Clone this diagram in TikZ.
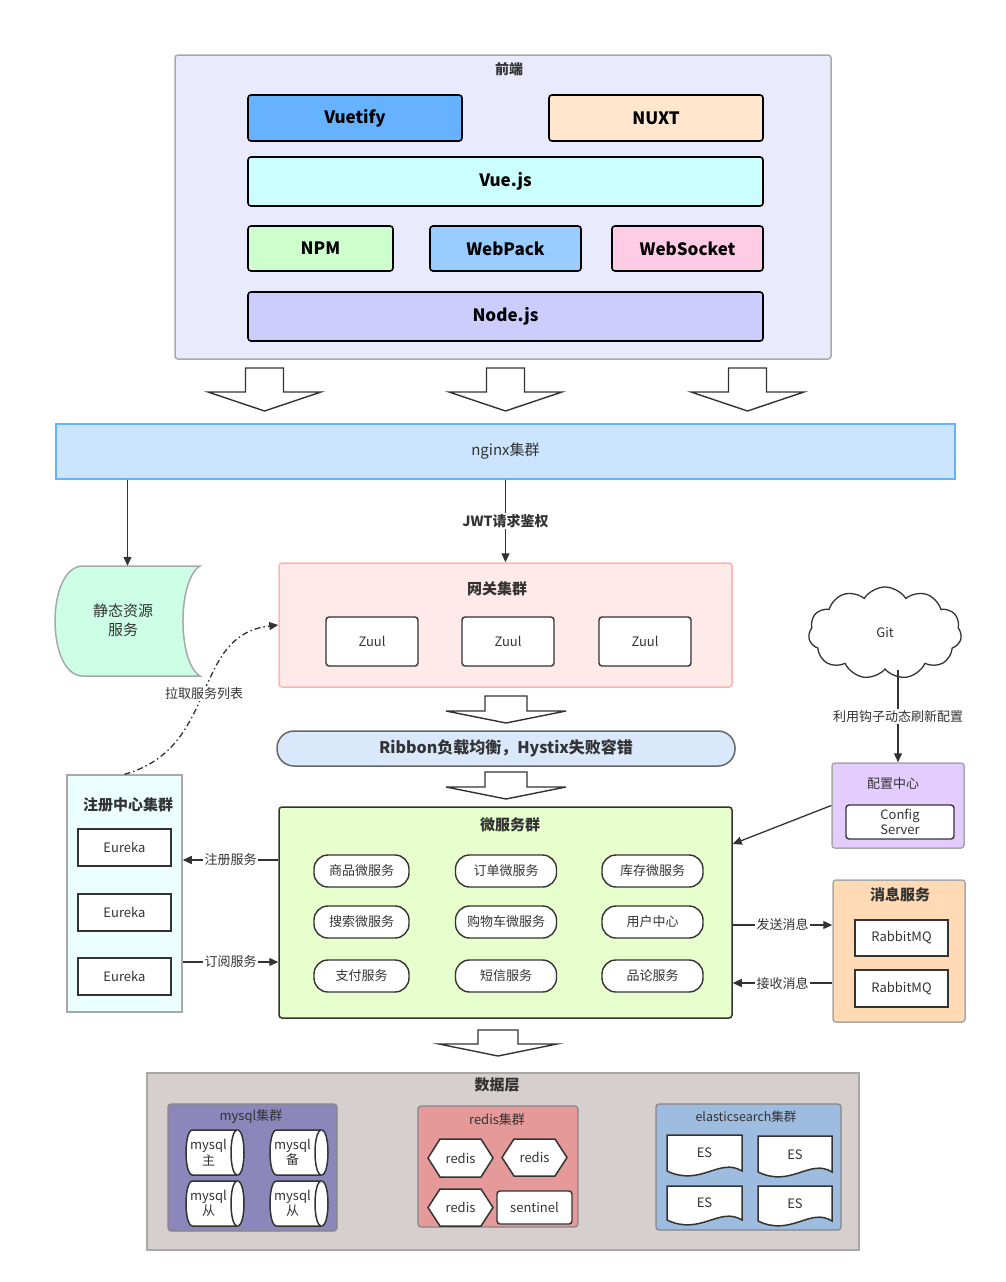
\documentclass[tikz,border=0pt]{standalone}
\usepackage{fontspec}
\setmainfont{Noto Sans CJK SC}
\usetikzlibrary{arrows.meta,shapes.symbols}
\definecolor{dk}{HTML}{333333}
\definecolor{grayb}{HTML}{A8A8A8}
\definecolor{feb}{HTML}{EAEAFF}
\definecolor{cvuetify}{HTML}{66B2FF}
\definecolor{cnuxt}{HTML}{FFE6CC}
\definecolor{cvue}{HTML}{CCFFFF}
\definecolor{cnpm}{HTML}{CCFFCC}
\definecolor{cwebpack}{HTML}{99CCFF}
\definecolor{cwebsock}{HTML}{FFCCE6}
\definecolor{cnode}{HTML}{CCCCFF}
\definecolor{cnginx}{HTML}{CCE5FF}
\definecolor{cnginxb}{HTML}{66B2FF}
\definecolor{cstatic}{HTML}{CCFFE6}
\definecolor{cgw}{HTML}{FFE9E9}
\definecolor{cgwb}{HTML}{FFB3B3}
\definecolor{cribbon}{HTML}{DAE8FC}
\definecolor{cribbonb}{HTML}{666666}
\definecolor{cmicro}{HTML}{E6FFCC}
\definecolor{creg}{HTML}{EBFFFF}
\definecolor{ccfg}{HTML}{E5CCFF}
\definecolor{cmsg}{HTML}{FFDAB4}
\definecolor{cdata}{HTML}{D7CECE}
\definecolor{cmysql}{HTML}{8C87BA}
\definecolor{credis}{HTML}{E59A99}
\definecolor{ces}{HTML}{9EBBE0}
\newcommand\bigarr[6]{%
  \draw[bigsty] ({#1-#5},#2) -- ({#1+#5},#2) -- ({#1+#5},#3) -- ({#1+#6},#3) -- (#1,#4) -- ({#1-#6},#3) -- ({#1-#5},#3) -- cycle;}
\newcommand\mycyl[4]{%
  \draw[shpsty] ({#1+6.5},#2) .. controls ({#1-2.17},#2) and ({#1-2.17},#4) .. ({#1+6.5},#4) -- ({#3-6.5},#4) .. controls ({#3+2.17},#4) and ({#3+2.17},#2) .. ({#3-6.5},#2) -- cycle;
  \draw[shpsty] ({#3-6.5},#2) .. controls ({#3-15.17},#2) and ({#3-15.17},#4) .. ({#3-6.5},#4);}
\newcommand\myhex[4]{%
  \draw[shpsty] (#1,{(#2+#4)/2}) -- ({#1+12},#2) -- ({#3-12},#2) -- (#3,{(#2+#4)/2}) -- ({#3-12},#4) -- ({#1+12},#4) -- cycle;}
\newcommand\mydoc[4]{%
  \draw[shpsty] (#1,#2) -- (#3,#2) -- (#3,#4) .. controls ({#3-0.3*(#3-#1)},{#4-14}) and ({#1+0.45*(#3-#1)},{#4+16}) .. (#1,#4) -- cycle;}
\begin{document}
\begin{tikzpicture}[x=1pt,y=-1pt,
  every node/.style={text=dk, inner sep=0pt},
  f13/.style={font=\fontsize{13}{15.5}\selectfont},
  f15/.style={font=\fontsize{15}{19}\selectfont},
  f15b/.style={font=\bfseries\fontsize{15}{18}\selectfont},
  f14b/.style={font=\bfseries\fontsize{14}{17}\selectfont},
  fe/.style={draw=black, text=black, line width=1.6pt, rounded corners=3pt, font=\bfseries\fontsize{17}{20}\selectfont},
  zbox/.style={draw=dk, line width=1.4pt, rounded corners=3pt, fill=white, f13},
  sqbox/.style={draw=dk, line width=1.4pt, fill=white, f13},
  pill/.style={draw=dk, line width=1.4pt, rounded corners=14pt, fill=white, f13, minimum height=32pt},
  grp/.style={line width=1.5pt, rounded corners=3pt},
  arr/.style={draw=dk, line width=1.3pt, -{Triangle[length=9pt,width=8pt]}},
  lbl/.style={fill=white, inner sep=1.5pt, f13},
  bigsty/.style={draw=dk, line width=1.4pt, fill=white, line join=miter},
  shpsty/.style={draw=dk, line width=1.5pt, fill=white},
  dashdot/.style={draw=dk, line width=1.3pt, dash pattern=on 6pt off 3pt on 1.5pt off 3pt, -{Triangle[length=9pt,width=8pt]}}]
\useasboundingbox[fill=white] (0,0) rectangle (1006,1282);

% ---------- front end ----------
\node[grp, draw=grayb, fill=feb, minimum width=656pt, minimum height=304pt] (front) at (503,207) {};
\node[f14b] (fetitle) at (509,69) {前端};
\node[fe, fill=cvuetify, minimum width=214pt, minimum height=46pt] (vuetify) at (355,118) {Vuetify};
\node[fe, fill=cnuxt, minimum width=214pt, minimum height=46pt] (nuxt) at (656,118) {NUXT};
\node[fe, fill=cvue, minimum width=515pt, minimum height=49pt] (vue) at (505.5,181.5) {Vue.js};
\node[fe, fill=cnpm, minimum width=145pt, minimum height=45pt] (npm) at (320.5,248.5) {NPM};
\node[fe, fill=cwebpack, minimum width=151pt, minimum height=45pt] (webpack) at (505.5,248.5) {WebPack};
\node[fe, fill=cwebsock, minimum width=151pt, minimum height=45pt] (websock) at (687.5,248.5) {WebSocket};
\node[fe, fill=cnode, minimum width=515pt, minimum height=49pt] (nodejs) at (505.5,316.5) {Node.js};

% ---------- block arrows ----------
\bigarr{264.5}{368}{392}{411}{19}{56.5}
\bigarr{505.5}{368}{392}{411}{19}{56.5}
\bigarr{747.5}{368}{392}{411}{19}{56.5}
\bigarr{506}{696}{711}{723}{21}{60}
\bigarr{506}{772}{787}{799}{21}{60}
\bigarr{498}{1030}{1044}{1056}{20}{59}

% ---------- nginx ----------
\node[draw=cnginxb, fill=cnginx, line width=1.5pt, minimum width=899pt, minimum height=55pt, f15] (nginx) at (505.5,451.5) {nginx集群};

% ---------- static resources ----------
\draw[draw=grayb, fill=cstatic, line width=1.5pt] (83,566) -- (200,566) .. controls (177.3,580) and (177.3,662) .. (200,676) -- (83,676) .. controls (45.7,676) and (45.7,566) .. (83,566) -- cycle;
\node[minimum width=145pt, minimum height=110pt] (static) at (127.5,621) {};
\node[f15, align=center] (statictxt) at (123,620) {静态资源\\服务};

% ---------- gateway ----------
\node[grp, draw=cgwb, fill=cgw, minimum width=453pt, minimum height=124pt] (gw) at (505.5,625) {};
\node[f15b] (gwtitle) at (497,589) {网关集群};
\node[zbox, minimum width=92pt, minimum height=49pt] (zuul1) at (372,641.5) {Zuul};
\node[zbox, minimum width=92pt, minimum height=49pt] (zuul2) at (508,641.5) {Zuul};
\node[zbox, minimum width=92pt, minimum height=49pt] (zuul3) at (645,641.5) {Zuul};

\draw[arr] (static.north |- nginx.south) -- (static.north);
\draw[arr] (nginx.south) -- (gw.north) node[midway, lbl, f14b] (jwt) {JWT请求鉴权};

% ---------- ribbon ----------
\node[draw=cribbonb, fill=cribbon, line width=1.5pt, rounded corners=17pt, minimum width=458pt, minimum height=35pt, font=\bfseries\fontsize{16}{19}\selectfont] (ribbon) at (506,748.5) {Ribbon负载均衡，Hystix失败容错};

% ---------- micro services ----------
\node[grp, draw=dk, fill=cmicro, minimum width=453pt, minimum height=211pt] (micro) at (505.5,912.5) {};
\node[f15b] (microtitle) at (510,825) {微服务群};
\node[pill, minimum width=95pt] (p11) at (361.5,871) {商品微服务};
\node[pill, minimum width=101pt] (p12) at (506,871) {订单微服务};
\node[pill, minimum width=101pt] (p13) at (652.5,871) {库存微服务};
\node[pill, minimum width=95pt] (p21) at (361.5,922) {搜索微服务};
\node[pill, minimum width=101pt] (p22) at (506,922) {购物车微服务};
\node[pill, minimum width=101pt] (p23) at (652.5,922) {用户中心};
\node[pill, minimum width=95pt] (p31) at (361.5,976) {支付服务};
\node[pill, minimum width=101pt] (p32) at (506,976) {短信服务};
\node[pill, minimum width=101pt] (p33) at (652.5,976) {品论服务};

% ---------- registry ----------
\node[draw=grayb, fill=creg, line width=1.5pt, minimum width=115pt, minimum height=237pt] (reg) at (124.5,893.5) {};
\node[f15b] (regtitle) at (128,805) {注册中心集群};
\node[sqbox, minimum width=93pt, minimum height=37pt] (eu1) at (124.5,847.5) {Eureka};
\node[sqbox, minimum width=93pt, minimum height=37pt] (eu2) at (124.5,912.5) {Eureka};
\node[sqbox, minimum width=93pt, minimum height=37pt] (eu3) at (124.5,976.5) {Eureka};

\draw[arr] (micro.west |- 0,860) -- (reg.east |- 0,860) node[midway, lbl] (lreg) {注册服务};
\draw[arr] (reg.east |- 0,962) -- (micro.west |- 0,962) node[midway, lbl] (lsub) {订阅服务};
\draw[dashdot] (reg.north) .. controls (220,748) and (190,635) .. (gw.west) node[pos=0.5, lbl] (lpull) {拉取服务列表};

% ---------- git & config ----------
\node[cloud, cloud puffs=11, cloud puff arc=115, aspect=1.7, draw=dk, fill=white, line width=1.3pt, minimum width=153pt, minimum height=92pt, f13] (git) at (885,633) {Git};
\node[draw=grayb, fill=ccfg, line width=1.5pt, rounded corners=3pt, minimum width=132pt, minimum height=85pt] (cfg) at (898,805.5) {};
\node[f13] (cfgtitle) at (893,784) {配置中心};
\node[zbox, align=center, minimum width=108pt, minimum height=34pt, font=\fontsize{13}{15}\selectfont] (cfgsrv) at (900,822) {Config\\Server};
\draw[arr] (cfg.north |- git.south) -- (cfg.north) node[midway, lbl] (lhook) {利用钩子动态刷新配置};
\draw[arr] (cfg.west) -- (micro.east |- 0,844);

% ---------- message ----------
\node[draw=grayb, fill=cmsg, line width=1.5pt, rounded corners=3pt, minimum width=132pt, minimum height=142pt] (msg) at (899,951) {};
\node[f15b] (msgtitle) at (900,895) {消息服务};
\node[sqbox, minimum width=93pt, minimum height=36pt] (mq1) at (901.5,938) {RabbitMQ};
\node[sqbox, minimum width=93pt, minimum height=37pt] (mq2) at (901.5,988.5) {RabbitMQ};
\draw[arr] (micro.east |- 0,925) -- (msg.west |- 0,925) node[midway, lbl] (lsend) {发送消息};
\draw[arr] (msg.west |- 0,983) -- (micro.east |- 0,983) node[midway, lbl] (lrecv) {接收消息};

% ---------- data layer ----------
\node[draw=grayb, fill=cdata, line width=1.5pt, minimum width=712pt, minimum height=177pt] (data) at (503,1161.5) {};
\node[f15b] (datatitle) at (497,1085) {数据层};
\node[draw=grayb!80!black, fill=cmysql, line width=1.2pt, rounded corners=3pt, minimum width=169pt, minimum height=127pt] (mysqlg) at (252.5,1167.5) {};
\node[f13] (mysqltitle) at (251,1117) {mysql集群};
\node[draw=grayb!80!black, fill=credis, line width=1.2pt, rounded corners=3pt, minimum width=160pt, minimum height=121pt] (redisg) at (498,1166.5) {};
\node[f13] (redistitle) at (497,1120) {redis集群};
\node[draw=grayb!80!black, fill=ces, line width=1.2pt, rounded corners=3pt, minimum width=185pt, minimum height=126pt] (esg) at (748.5,1167) {};
\node[font=\fontsize{12.5}{15}\selectfont] (estitle) at (746,1117) {elasticsearch集群};

\mycyl{186}{1130}{244}{1175}
\mycyl{270}{1130}{328}{1175}
\mycyl{186}{1181}{244}{1226}
\mycyl{270}{1181}{328}{1226}
\node[f13, align=center] (my1) at (208.5,1152.5) {mysql\\主};
\node[f13, align=center] (my2) at (292.5,1152.5) {mysql\\备};
\node[f13, align=center] (my3) at (208.5,1203.5) {mysql\\从};
\node[f13, align=center] (my4) at (292.5,1203.5) {mysql\\从};

\myhex{428}{1139}{493}{1177}
\myhex{502}{1139}{567}{1176}
\myhex{428}{1189}{493}{1226}
\node[f13] (rd1) at (460.5,1158) {redis};
\node[f13] (rd2) at (534.5,1157.5) {redis};
\node[f13] (rd3) at (460.5,1207.5) {redis};
\node[zbox, minimum width=75pt, minimum height=33pt] (sent) at (534.5,1207.5) {sentinel};

\mydoc{667}{1135}{742}{1171}
\mydoc{758}{1136}{832}{1172}
\mydoc{667}{1186}{742}{1220}
\mydoc{758}{1186}{832}{1221}
\node[f13] (es1) at (704.5,1153) {ES};
\node[f13] (es2) at (795,1155) {ES};
\node[f13] (es3) at (704.5,1203) {ES};
\node[f13] (es4) at (795,1204) {ES};
\end{tikzpicture}
\end{document}
